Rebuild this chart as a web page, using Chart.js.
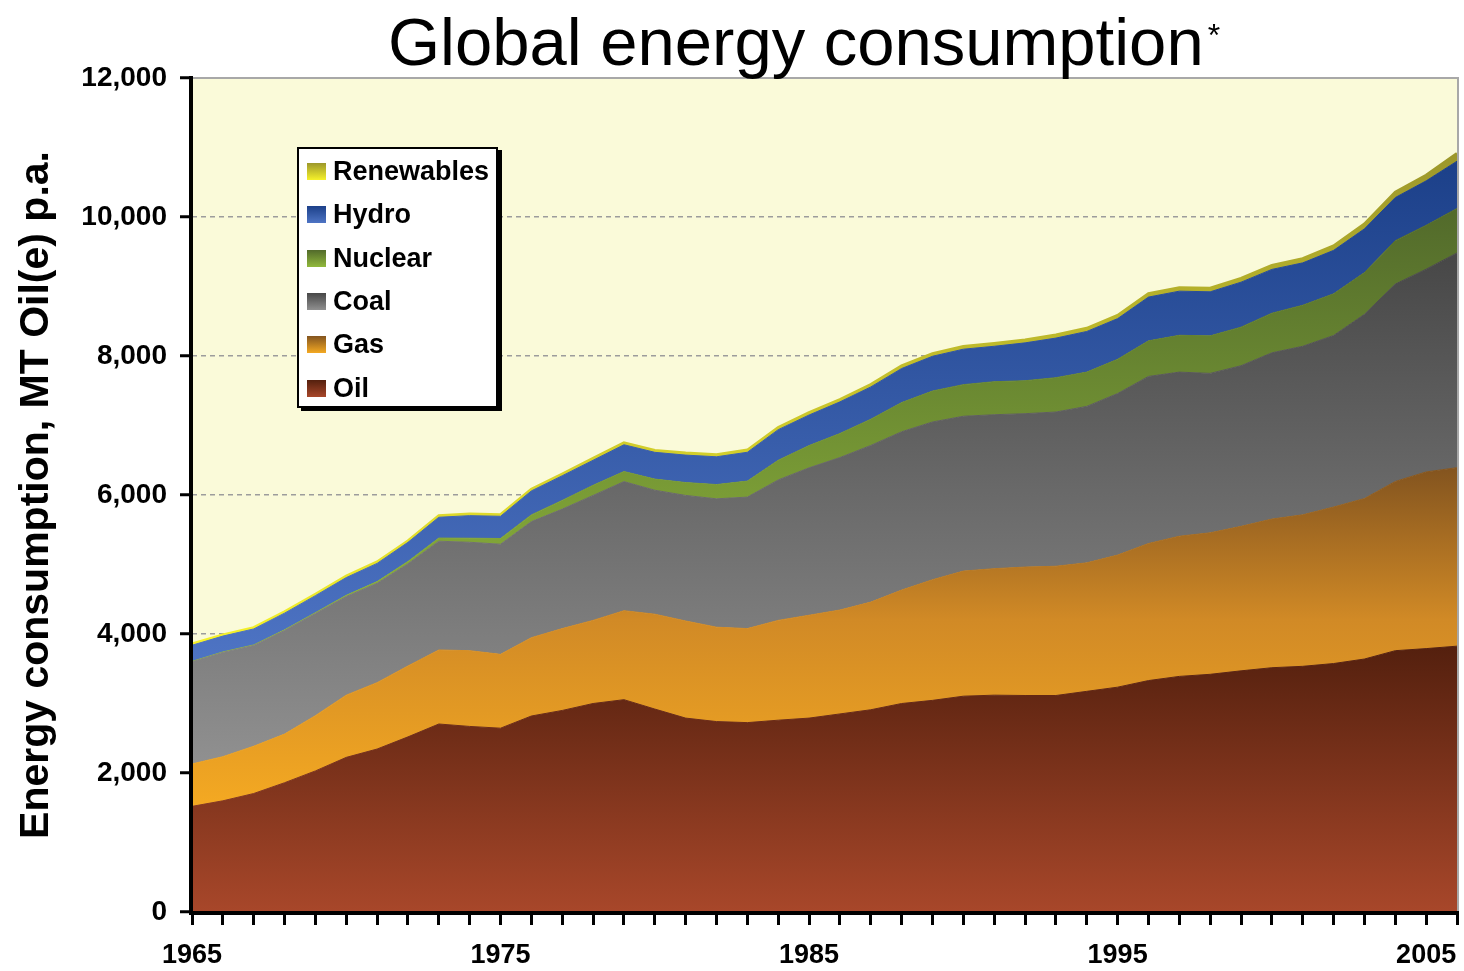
<!DOCTYPE html>
<html lang="en">
<head>
<meta charset="utf-8">
<title>Global energy consumption</title>
<script src="https://cdn.jsdelivr.net/npm/chart.js@4.4.1/dist/chart.umd.min.js"></script>
<style>
  html, body { margin: 0; padding: 0; background: #fff; }
  #wrap { position: relative; width: 1464px; height: 971px; }
  #title {
    position: absolute; left: 388px; top: 8px; margin: 0;
    font: normal 67px/67px "Liberation Sans", Arial, sans-serif;
    white-space: nowrap; color: #000;
  }
  #title sup { font-size: 32px; position: relative; top: -6px; left: 4px; vertical-align: top; }
  #legend {
    position: absolute; left: 297px; top: 147px; width: 197px; height: 256px;
    padding-top: 1px; box-sizing: content-box;
    background: #fff; border: 2px solid #000; box-shadow: 4px 3px 0 #000;
  }
  .item { display: flex; align-items: center; height: 43.3px; font: bold 27px "Liberation Sans", Arial, sans-serif; color: #000; }
  .swatch { width: 19px; height: 17px; margin: 0 7px 0 8px; }
</style>
</head>
<body>
<div id="wrap">
  <canvas id="energyChart"></canvas>
  <h1 id="title">Global energy consumption<sup>*</sup></h1>
  <div id="legend"></div>
</div>
<script>
const FONT_FAMILY = "'Liberation Sans', Arial, sans-serif";
const PLOT_BG = "#fafad9";

const years = [
  "1965", "1966", "1967", "1968", "1969", "1970", "1971", "1972", "1973", "1974",
  "1975", "1976", "1977", "1978", "1979", "1980", "1981", "1982", "1983", "1984",
  "1985", "1986", "1987", "1988", "1989", "1990", "1991", "1992", "1993", "1994",
  "1995", "1996", "1997", "1998", "1999", "2000", "2001", "2002", "2003", "2004",
  "2005", "2006"
];
const xTickLabels = ["1965", "1975", "1985", "1995", "2005"];

// MT oil equivalent per year
const oil = [1520, 1600, 1705, 1860, 2030, 2225, 2345, 2520, 2705, 2670, 2645, 2820, 2900, 3000, 3055, 2920, 2790, 2740, 2725, 2760, 2790, 2850, 2910, 3000, 3045, 3105, 3120, 3115, 3115, 3175, 3235, 3330, 3390, 3420, 3470, 3515, 3535, 3575, 3640, 3760, 3790, 3825];
const gas = [610, 635, 680, 700, 795, 895, 955, 1020, 1065, 1090, 1062, 1127, 1178, 1196, 1280, 1365, 1397, 1358, 1353, 1436, 1480, 1495, 1549, 1632, 1736, 1800, 1820, 1848, 1860, 1849, 1901, 1972, 2017, 2036, 2079, 2139, 2180, 2252, 2309, 2435, 2542, 2568];
const coal = [1470, 1500, 1450, 1490, 1470, 1420, 1430, 1470, 1565, 1560, 1585, 1670, 1719, 1798, 1858, 1784, 1807, 1847, 1892, 2021, 2121, 2194, 2254, 2278, 2270, 2228, 2215, 2207, 2219, 2251, 2324, 2404, 2361, 2294, 2311, 2392, 2425, 2468, 2651, 2840, 2918, 3090];
const nuclear = [6, 7, 8, 10, 12, 17, 24, 34, 45, 58, 82, 97, 125, 146, 145, 160, 185, 205, 230, 283, 320, 346, 377, 420, 445, 455, 475, 474, 494, 493, 493, 512, 530, 540, 555, 570, 590, 600, 600, 625, 630, 640];
const hydro = [232, 228, 230, 240, 245, 255, 262, 275, 300, 325, 320, 345, 355, 360, 385, 385, 395, 400, 415, 440, 440, 455, 465, 490, 500, 510, 510, 545, 570, 585, 585, 630, 635, 634, 647, 630, 610, 625, 630, 620, 640, 680];
const renewables = [18, 18, 19, 19, 20, 20, 21, 21, 22, 22, 23, 24, 25, 26, 27, 28, 29, 30, 31, 32, 33, 34, 35, 37, 38, 40, 41, 42, 43, 45, 46, 48, 50, 52, 54, 56, 60, 63, 68, 75, 80, 110];

const seriesNames = ["Oil", "Gas", "Coal", "Nuclear", "Hydro", "Renewables"];
const seriesData = [oil, gas, coal, nuclear, hydro, renewables];
const topColors = ["#54200e", "#83541f", "#474747", "#526a2b", "#1c4089", "#9c972b"];
const midColors = [null, "#d18a26", null, null, null, null];
const bottomColors = ["#a8472a", "#f4a922", "#909090", "#91b93c", "#4e74c4", "#f6f22a"];

function stackBounds(index) {
  let maxTop = 0;
  let minBase = Infinity;
  years.forEach((_, i) => {
    let base = 0;
    for (let s = 0; s < index; s++) base += seriesData[s][i];
    maxTop = Math.max(maxTop, base + seriesData[index][i]);
    minBase = Math.min(minBase, base);
  });
  return { maxTop, minBase };
}

function areaGradient(index) {
  return (context) => {
    const { chart } = context;
    const { chartArea, scales } = chart;
    if (!chartArea) return bottomColors[index];
    const { maxTop, minBase } = stackBounds(index);
    const y0 = scales.y.getPixelForValue(maxTop);
    const y1 = scales.y.getPixelForValue(minBase);
    const gradient = chart.ctx.createLinearGradient(0, y0, 0, y1);
    gradient.addColorStop(0, topColors[index]);
    if (midColors[index]) gradient.addColorStop(0.45, midColors[index]);
    gradient.addColorStop(1, bottomColors[index]);
    return gradient;
  };
}

const plotFrame = {
  id: "plotFrame",
  beforeDraw(chart) {
    const { ctx, chartArea: a } = chart;
    ctx.save();
    ctx.fillStyle = PLOT_BG;
    ctx.fillRect(a.left, a.top, a.right - a.left, a.bottom - a.top);
    ctx.restore();
  },
  afterDatasetsDraw(chart) {
    const { ctx, chartArea: a } = chart;
    ctx.save();
    ctx.strokeStyle = "#a8a8a8";
    ctx.lineWidth = 2;
    ctx.beginPath();
    ctx.moveTo(a.left, a.top);
    ctx.lineTo(a.right + 1, a.top);
    ctx.lineTo(a.right + 1, a.bottom);
    ctx.stroke();
    ctx.strokeStyle = "#000";
    ctx.lineWidth = 4;
    ctx.beginPath();
    ctx.moveTo(a.left - 1, a.top - 2);
    ctx.lineTo(a.left - 1, a.bottom + 1);
    ctx.lineTo(a.right + 2, a.bottom + 1);
    ctx.stroke();
    ctx.restore();
  }
};

const energyChart = new Chart(document.getElementById("energyChart"), {
  type: "line",
  data: {
    labels: years,
    datasets: seriesNames.map((name, i) => ({
      label: name,
      data: seriesData[i],
      fill: i === 0 ? "origin" : "-1",
      backgroundColor: areaGradient(i),
      borderColor: areaGradient(i),
      borderWidth: i === 5 ? 3 : 1,
      pointRadius: 0,
      tension: 0
    }))
  },
  options: {
    responsive: true,
    maintainAspectRatio: false,
    animation: false,
    events: [],
    layout: { padding: { top: 78, right: 7, left: 0, bottom: 0 } },
    plugins: {
      legend: { display: false },
      tooltip: { enabled: false }
    },
    scales: {
      x: {
        type: "category",
        offset: false,
        afterFit: (scale) => {
          scale.height = 59;
          scale.paddingRight = 0;
        },
        ticks: {
          autoSkip: false,
          maxRotation: 0,
          padding: 14,
          color: "#000",
          font: { family: FONT_FAMILY, size: 27, weight: "bold" },
          callback(value) {
            const label = this.getLabelForValue(value);
            return xTickLabels.includes(label) ? label : "";
          }
        },
        grid: {
          drawOnChartArea: false,
          drawTicks: true,
          tickLength: 13,
          tickWidth: 3,
          tickColor: "#000",
          color: "#000"
        },
        border: { display: false }
      },
      y: {
        stacked: true,
        min: 0,
        max: 12000,
        afterFit: (scale) => { scale.width = 192; },
        ticks: {
          stepSize: 2000,
          padding: 13,
          color: "#000",
          font: { family: FONT_FAMILY, size: 28, weight: "bold" },
          callback: (value) => value.toLocaleString("en-US")
        },
        grid: {
          color: "#9c9c9c",
          lineWidth: 1.5,
          tickColor: "#000",
          tickWidth: 3,
          tickLength: 12
        },
        border: { display: false, dash: [5, 4] },
        title: {
          display: true,
          text: "Energy consumption, MT Oil(e) p.a.",
          color: "#000",
          font: { family: FONT_FAMILY, size: 41, weight: "bold" },
          padding: { top: 12, bottom: 0 }
        }
      }
    }
  },
  plugins: [plotFrame]
});

function buildLegend(chart) {
  const legendEl = document.getElementById("legend");
  const items = chart.data.datasets.map((ds, i) => ({ label: ds.label, index: i })).reverse();
  items.forEach(({ label, index }) => {
    const row = document.createElement("div");
    row.className = "item";
    const swatch = document.createElement("span");
    swatch.className = "swatch";
    swatch.style.background = `linear-gradient(${topColors[index]}, ${bottomColors[index]})`;
    row.appendChild(swatch);
    row.appendChild(document.createTextNode(label));
    legendEl.appendChild(row);
  });
}

buildLegend(energyChart);
</script>
</body>
</html>
